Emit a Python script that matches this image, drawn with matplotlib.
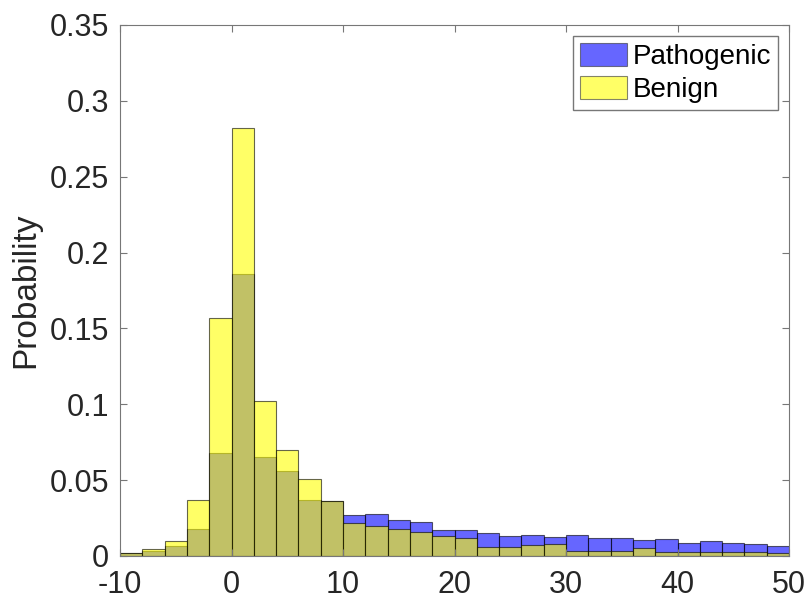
import numpy as np
import matplotlib
matplotlib.use('Agg')
import matplotlib.pyplot as plt

plt.rcParams['font.family'] = ['Liberation Sans', 'DejaVu Sans']
plt.rcParams['axes.unicode_minus'] = False

# bin edges (width 2) from -10 to 50
bin_edges = np.arange(-10, 52, 2)

# probability per bin
pathogenic = [0.002, 0.003, 0.0066, 0.018, 0.068, 0.186, 0.065, 0.056, 0.037, 0.036,
              0.027, 0.028, 0.0235, 0.0224, 0.017, 0.017, 0.015, 0.0134, 0.0138, 0.0125,
              0.0138, 0.0116, 0.0116, 0.0103, 0.011, 0.0083, 0.0097, 0.0088, 0.0081, 0.0066]
benign = [0.002, 0.0045, 0.0097, 0.037, 0.157, 0.282, 0.102, 0.070, 0.051, 0.036,
          0.022, 0.020, 0.018, 0.016, 0.013, 0.012, 0.006, 0.0057, 0.007, 0.0077,
          0.0036, 0.0035, 0.0035, 0.0051, 0.0029, 0.0029, 0.0029, 0.0029, 0.0029, 0.0018]

fig = plt.figure(figsize=(8.11, 5.99), dpi=100)
ax = fig.add_axes([0.148, 0.0718, 0.825, 0.8865])

ax.bar(bin_edges[:-1], pathogenic, width=2, align='edge', color=(0, 0, 1), alpha=0.6,
       edgecolor='black', linewidth=0.8, label='Pathogenic')
ax.bar(bin_edges[:-1], benign, width=2, align='edge', color=(1, 1, 0), alpha=0.6,
       edgecolor='black', linewidth=0.8, label='Benign')

ax.set_xlim(-10, 50)
ax.set_ylim(0, 0.35)
ax.set_xticks(np.arange(-10, 51, 10))
ax.set_yticks([0, 0.05, 0.1, 0.15, 0.2, 0.25, 0.3, 0.35])
ax.set_yticklabels(['0', '0.05', '0.1', '0.15', '0.2', '0.25', '0.3', '0.35'])
ax.tick_params(direction='in', top=True, right=True, labelsize=22, colors='#262626',
               length=5, width=0.8)
ax.tick_params(axis='y', pad=8)
ax.tick_params(axis='x', pad=10)
ax.tick_params(axis='both', color='#777777')
for s in ax.spines.values():
    s.set_color('#777777')
    s.set_linewidth(0.8)

ax.set_ylabel('Probability', fontsize=24, color='#262626', labelpad=6)

leg = ax.legend(loc='upper right', fontsize=20, fancybox=False, framealpha=1,
                edgecolor='#777777', handlelength=1.7, handleheight=0.9,
                handletextpad=0.2, borderpad=0.25, labelspacing=0.2, borderaxespad=0.4)
for h in leg.legend_handles:
    h.set_edgecolor('#333333')
    h.set_alpha(0.6)

fig.savefig('out.png', dpi=100)
